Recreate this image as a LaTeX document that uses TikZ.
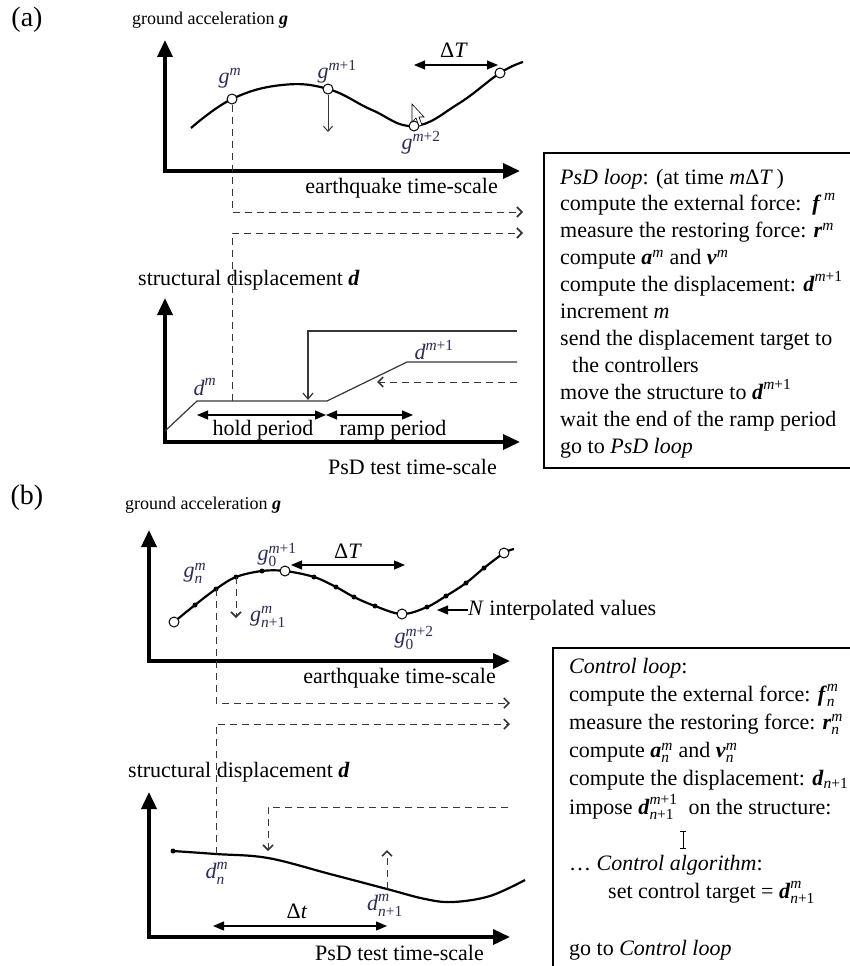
\documentclass[tikz,border=0pt]{standalone}
\usepackage{amsmath}
\usepackage{fontspec}
\setmainfont{Liberation Serif}
\usetikzlibrary{arrows.meta,positioning}
\definecolor{labcol}{RGB}{45,45,85}
\definecolor{linecol}{RGB}{55,55,55}
\newcommand\vb[1]{\textbf{\textit{#1}}}
\newcommand\vi[1]{\textit{#1}}

\begin{document}
\begin{tikzpicture}[x=1pt,y=-1pt,
    axis/.style={line width=3.6pt,{Triangle[length=17pt,width=15pt]}-{Triangle[length=17pt,width=15pt]}},
    span/.style={line width=1.1pt,{Triangle[length=11pt,width=9pt]}-{Triangle[length=11pt,width=9pt]}},
    push/.style={line width=1.1pt,-{Triangle[length=11pt,width=9pt]}},
    drop/.style={line width=1pt,linecol,-{Straight Barb[length=5pt,width=9pt]}},
    dsh/.style={line width=1pt,linecol,dash pattern=on 7pt off 5pt,-{Straight Barb[length=5pt,width=10pt,line width=1.6pt]}},
    sig/.style={line width=2.2pt},
    lvl/.style={line width=1.2pt,linecol},
    smp/.style={circle,draw,fill=white,line width=1pt,inner sep=0pt,minimum size=10pt},
    txt/.style={font=\fontsize{22}{26}\selectfont,inner sep=0pt},
    ttl/.style={font=\fontsize{18}{22}\selectfont,inner sep=0pt},
    tag/.style={font=\fontsize{28}{32}\selectfont,inner sep=0pt},
    lab/.style={font=\fontsize{22}{26}\selectfont,text=labcol,inner sep=0pt}]
  \useasboundingbox (0,0) rectangle (850,966);
  \fill[white] (0,0) rectangle (850,966);
  \clip (0,0) rectangle (850,966);

  % (a) earthquake record
  \node[tag] (pa) at (27,20) {(a)};
  \node[ttl,anchor=west] (ta) at (132,20) {ground acceleration \vb{g}};
  \coordinate (oa) at (165,171);
  \coordinate (ya) at (165,40);
  \coordinate (xa) at (520,171);
  \draw[axis] (ya) -- (oa) -- (xa);
  \node[txt,anchor=east] (ea) at (498,188) {earthquake time-scale};
  \coordinate (gm) at (232,99);
  \coordinate (gm1) at (328,89);
  \coordinate (gm2) at (414,126);
  \coordinate (gT) at (500,73);
  \draw[sig] plot[smooth,tension=0.7] coordinates {(191,128) (gm) (282,85) (gm1) (372,110) (gm2) (458,104) (gT) (523,62)};
  \foreach \p in {gm,gm1,gm2,gT} \node[smp] (s-\p) at (\p) {};
  \node[lab] (lgm) at (230,78) {$\vi{g}^{\vi{m}}$};
  \node[lab] (lgm1) at (337,72) {$\vi{g}^{\vi{m}\text{+1}}$};
  \node[lab] (lgm2) at (421,143) {$\vi{g}^{\vi{m}\text{+2}}$};
  \coordinate (dta) at (414,65);
  \coordinate (dtb) at (498,65);
  \draw[span] (dta) -- (dtb);
  \node[txt] (dT) at (454,50) {Δ\vi{T}};
  \coordinate (gdn) at (328,132);
  \draw[drop] (s-gm1) -- (gdn);
  \draw[fill=white,line width=0.6pt] (412,104) -- (412,122) -- (416,118) -- (419,126) -- (422,125) -- (419,117) -- (424,117) -- cycle;

  % (a) PsD displacement
  \node[txt,anchor=west] (tb) at (138,280) {structural displacement \vb{d}};
  \coordinate (ob) at (165,442);
  \coordinate (yb) at (165,298);
  \coordinate (xb) at (520,442);
  \draw[axis] (yb) -- (ob) -- (xb);
  \node[txt,anchor=east] (pb) at (497,467) {PsD test time-scale};
  \coordinate (s0) at (165,431);
  \coordinate (s1) at (197,401);
  \coordinate (hm) at (232,401);
  \coordinate (s2) at (327,401);
  \coordinate (s3) at (407,362);
  \coordinate (s4) at (517,362);
  \draw[lvl] (s0) -- (s1) -- (s2) -- (s3) -- (s4);
  \coordinate (t0) at (517,331);
  \coordinate (t1) at (308,331);
  \coordinate (t2) at (308,400);
  \draw[lvl,-{Straight Barb[length=6pt,width=10pt]}] (t0) -- (t1) -- (t2);
  \coordinate (r0) at (517,382);
  \coordinate (r1) at (377,382);
  \draw[dsh] (r0) -- (r1);
  \coordinate (qa1) at (523,212);
  \coordinate (qa2) at (523,233);
  \draw[dsh] (s-gm) |- (qa1);
  \draw[dsh] (hm) |- (qa2);
  \node[lab] (ldm) at (205,387) {$\vi{d}^{\vi{m}}$};
  \node[lab] (ldm1) at (434,350) {$\vi{d}^{\vi{m}\text{+1}}$};
  \coordinate (h0) at (197,415);
  \coordinate (h1) at (326,415);
  \coordinate (h2) at (413,415);
  \draw[span] (h0) -- (h1);
  \draw[span] (h1) -- (h2);
  \node[txt] (hp) at (263,430) {hold period};
  \node[txt] (rp) at (393,430) {ramp period};

  % (a) PsD loop box
  \draw[line width=1.2pt] (870,153) -- (544,153) -- (544,468) -- (870,468);
  \foreach \i/\t in {1/{\textit{PsD loop}: (at time \vi{m}Δ\vi{T}\,)},
      2/{compute the external force:\ \ $\vb{f}^{\,\vi{m}}$},
      3/{measure the restoring force: $\vb{r}^{\vi{m}}$},
      4/{compute $\vb{a}^{\vi{m}}$ and $\vb{v}^{\vi{m}}$},
      5/{compute the displacement: $\vb{d}^{\vi{m}\text{+1}}$},
      6/{increment \vi{m}},
      7/{send the displacement target to},
      8/{\hspace*{12pt}the controllers},
      9/{move the structure to $\vb{d}^{\vi{m}\text{+1}}$},
      10/{wait the end of the ramp period},
      11/{go to \textit{PsD loop}}}
    \node[txt,anchor=base west] (la\i) at (560,{184+26.9*(\i-1)}) {\t};

  % (b) earthquake record
  \node[tag] (pbl) at (27,498) {(b)};
  \node[ttl,anchor=west] (tc) at (125,505) {ground acceleration \vb{g}};
  \coordinate (oc) at (149,661);
  \coordinate (yc) at (149,530);
  \coordinate (xc) at (510,661);
  \draw[axis] (yc) -- (oc) -- (xc);
  \node[txt,anchor=east] (ec) at (496,678) {earthquake time-scale};
  \coordinate (c0) at (174,622);
  \coordinate (gn) at (216,589);
  \coordinate (gn1) at (236,577);
  \coordinate (g0) at (285,571);
  \coordinate (g02) at (402,614);
  \coordinate (gE) at (504,553);
  \draw[sig] plot[smooth,tension=0.6] coordinates {(c0) (195,605) (gn) (gn1) (262,571) (g0) (314,577) (336,587) (354,597) (375,606) (g02) (427,607) (446,596) (466,583) (484,568) (gE) (514,549)};
  \foreach \x/\y in {195/605,216/589,236/577,262/571,314/577,336/587,354/597,375/606,427/607,446/596,466/583,484/568}
    \fill (\x,\y) circle (2.5pt);
  \foreach \p in {c0,g0,g02,gE} \node[smp] (s-\p) at (\p) {};
  \node[lab] (lgn) at (195,573) {$\vi{g}^{\vi{m}}_{\vi{n}}$};
  \node[lab] (lg0) at (277,555) {$\vi{g}^{\vi{m}\text{+1}}_{\text{0}}$};
  \node[lab] (lgn1) at (268,617) {$\vi{g}^{\vi{m}}_{\vi{n}\text{+1}}$};
  \node[lab] (lg02) at (414,638) {$\vi{g}^{\vi{m}\text{+2}}_{\text{0}}$};
  \coordinate (dtc) at (291,565);
  \coordinate (dtd) at (405,565);
  \draw[span] (dtc) -- (dtd);
  \node[txt] (dTb) at (348,551) {Δ\vi{T}};
  \coordinate (gdb) at (236,618);
  \draw[dsh] (gn1) -- (gdb);
  \coordinate (nt) at (437,610);
  \node[txt,anchor=west] (nv) at (468,610) {\vi{N} interpolated values};
  \draw[push] (nv.west) -- (nt);
  \coordinate (qc1) at (510,703);
  \coordinate (qc2) at (510,724);
  \draw[dsh] (gn) |- (qc1);

  % (b) PsD displacement
  \node[txt,anchor=west] (td) at (128,772) {structural displacement \vb{d}};
  \coordinate (od) at (149,937);
  \coordinate (yd) at (149,792);
  \coordinate (xd) at (510,937);
  \draw[axis] (yd) -- (od) -- (xd);
  \node[txt,anchor=east] (pd) at (484,953) {PsD test time-scale};
  \coordinate (dn) at (216,854);
  \coordinate (dn1) at (387,889);
  \draw[sig] plot[smooth,tension=0.6] coordinates {(173,851) (dn) (268,858) (330,874) (dn1) (425,899) (453,902) (490,896) (525,880)};
  \fill (173,851) circle (2.5pt);
  \draw[dsh] (dn) |- (qc2);
  \coordinate (u0) at (508,807);
  \coordinate (u1) at (268,807);
  \coordinate (u2) at (268,851);
  \draw[dsh] (u0) -- (u1) -- (u2);
  \coordinate (v1) at (387,850);
  \draw[dsh] (dn1) -- (v1);
  \node[lab] (ldn) at (217,873) {$\vi{d}^{\vi{m}}_{\vi{n}}$};
  \node[lab] (ldn1) at (385,905) {$\vi{d}^{\vi{m}}_{\vi{n}\text{+1}}$};
  \coordinate (e0) at (213,926);
  \coordinate (e1) at (387,926);
  \draw[span] (e0) -- (e1);
  \node[txt] (dt) at (297,911) {Δ\vi{t}};

  % (b) control loop box
  \draw[line width=1.2pt] (870,648) -- (553,648) -- (553,980);
  \foreach \i/\t in {1/{\textit{Control loop}:},
      2/{compute the external force: $\vb{f}^{\vi{m}}_{\vi{n}}$},
      3/{measure the restoring force: $\vb{r}^{\vi{m}}_{\vi{n}}$},
      4/{compute $\vb{a}^{\vi{m}}_{\vi{n}}$ and $\vb{v}^{\vi{m}}_{\vi{n}}$},
      5/{compute the displacement: $\vb{d}_{\vi{n}\text{+1}}$},
      6/{impose $\vb{d}^{\vi{m}\text{+1}}_{\vi{n}\text{+1}}$\ \ on the structure:},
      8/{\ldots\ \textit{Control algorithm}:},
      9/{\hspace*{39pt}set control target = $\vb{d}^{\vi{m}}_{\vi{n}\text{+1}}$},
      11/{go to \textit{Control loop}}}
    \node[txt,anchor=base west] (lb\i) at (569,{673+28.2*(\i-1)}) {\t};
  \draw[line width=1pt] (683,831) -- (683,848) (680,831) -- (686,831) (680,848) -- (686,848);
\end{tikzpicture}
\end{document}
